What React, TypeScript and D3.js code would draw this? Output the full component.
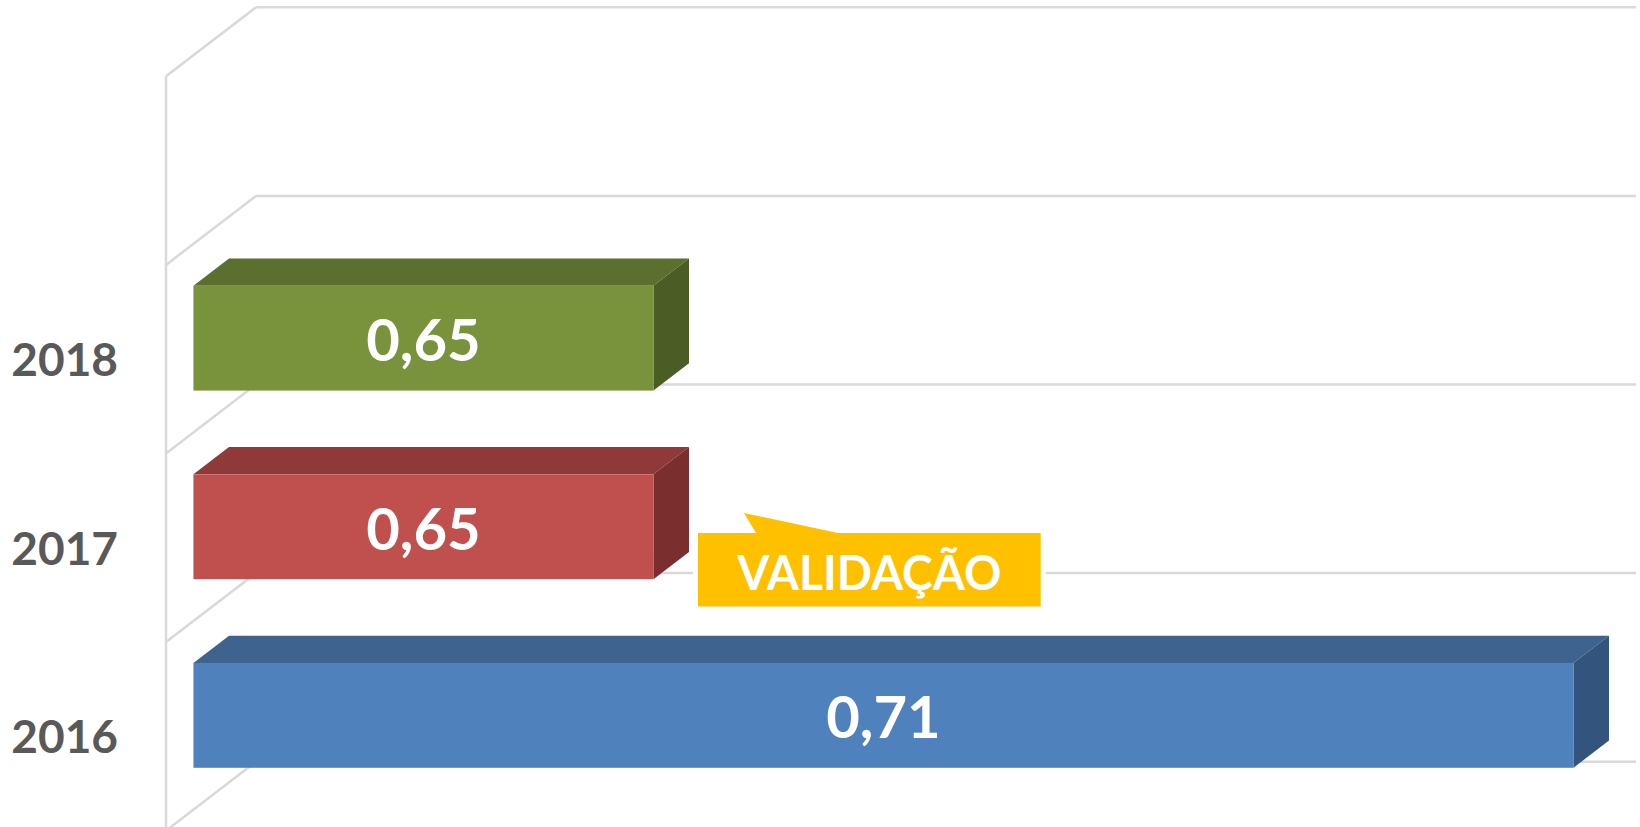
import React from "react";
import * as d3 from "d3";

// ---- data ----
const categories: string[] = ["", "2018", "2017", "2016"]; // top slot is empty in the source chart
const values: (number | null)[] = [null, 0.65, 0.65, 0.71];
const callouts: { category: string; text: string }[] = [{ category: "2017", text: "VALIDAÇÃO" }];
const axisMin = 0.62;
const axisMax = 0.71;

// ---- styles ----
const W = 1640;
const H = 827;
const DX = 90; // depth offset in x (front plane -> back wall)
const DY = 69; // depth offset in y
const D0 = 0.305; // bar front depth fraction
const D1 = 0.7; // bar back depth fraction
const FONT = "Lato, 'Open Sans', sans-serif";
const barColors: Record<string, { front: string; top: string; side: string }> = {
  "2018": { front: "#79933D", top: "#5B6F2F", side: "#4A5D25" },
  "2017": { front: "#C0504D", top: "#8F3A39", side: "#7A2F2E" },
  "2016": { front: "#4F81BD", top: "#3E638F", side: "#33557D" },
};

export default function App() {
  const x = d3.scaleLinear().domain([axisMin, axisMax]).range([166, 1546]);
  const y = d3
    .scaleBand<string>()
    .domain(categories)
    .range([7.3, 761.7])
    .paddingInner(0.444)
    .paddingOuter(0.222);

  const step = y.step();
  const y0 = y.range()[0];
  const P = (xf: number, yb: number, d: number): [number, number] => [xf + d * DX, yb + (1 - d) * DY];
  const pts = (arr: [number, number][]) => arr.map((p) => p.join(",")).join(" ");

  const boundaries = d3.range(categories.length + 1).map((i) => y0 + i * step);
  const xl = x(axisMin);
  const xr = x(axisMax);
  const fmt = (v: number) => d3.format(".2f")(v).replace(".", ",");

  return (
    <svg
      width={W}
      height={H}
      style={{ position: "absolute", left: 0, top: 0, background: "#fff" }}
      fontFamily={FONT}
    >
      {/* gridlines */}
      <g stroke="#D9D9D9" strokeWidth={2.5} fill="none">
        <line x1={xl} x2={xl} y1={boundaries[0] + DY} y2={H + 10} />
        {boundaries.map((b, i) => (
          <g key={i}>
            <line x1={xl + DX} x2={xr + DX} y1={b} y2={b} />
            <line x1={xl + DX} y1={b} x2={xl} y2={b + DY} />
          </g>
        ))}
      </g>

      {/* bars */}
      {categories.map((c, i) => {
        const v = values[i];
        if (v == null || !c) return null;
        const top = y(c)!;
        const bot = top + y.bandwidth();
        const xa = x(axisMin);
        const xb = x(v);
        const col = barColors[c];
        const fTL = P(xa, top, D0);
        const fTR = P(xb, top, D0);
        const fBR = P(xb, bot, D0);
        const bTL = P(xa, top, D1);
        const bTR = P(xb, top, D1);
        const bBR = P(xb, bot, D1);
        const cx = (fTL[0] + fTR[0]) / 2;
        const cy = (fTL[1] + fBR[1]) / 2;
        return (
          <g key={c}>
            <polygon points={pts([fTL, fTR, bTR, bTL])} fill={col.top} />
            <polygon points={pts([fTR, bTR, bBR, fBR])} fill={col.side} />
            <rect x={fTL[0]} y={fTL[1]} width={fTR[0] - fTL[0]} height={fBR[1] - fTL[1]} fill={col.front} />
            <text x={cx} y={cy + 23} textAnchor="middle" fill="#fff" fontWeight={700} fontSize={58}>
              {fmt(v)}
            </text>
          </g>
        );
      })}

      {/* category labels */}
      {categories.map((c) =>
        c ? (
          <text
            key={"l" + c}
            x={118}
            y={y(c)! + y.bandwidth() / 2 + DY + 17}
            textAnchor="end"
            fill="#595959"
            fontWeight={700}
            fontSize={46}
          >
            {c}
          </text>
        ) : null
      )}

      {/* callout */}
      {callouts.map((co) => {
        const top = y(co.category)!;
        const barBot = P(0, top + y.bandwidth(), D0)[1];
        const rx0 = 698;
        const rx1 = 1040.7;
        const ry0 = barBot - 46.3;
        const ry1 = ry0 + 73.6;
        const path = `M${rx0},${ry0} L756,${ry0} L744,${ry0 - 20} L838,${ry0} L${rx1},${ry0} L${rx1},${ry1} L${rx0},${ry1} Z`;
        return (
          <g key={co.text}>
            <path d={path} fill="#fff" stroke="#fff" strokeWidth={10} strokeLinejoin="miter" />
            <path d={path} fill="#FFC000" />
            <text
              x={(rx0 + rx1) / 2}
              y={ry0 + 57}
              textAnchor="middle"
              fill="#fff"
              fontWeight={700}
              fontSize={48}
              textLength={264}
              lengthAdjust="spacingAndGlyphs"
            >
              {co.text}
            </text>
          </g>
        );
      })}
    </svg>
  );
}
